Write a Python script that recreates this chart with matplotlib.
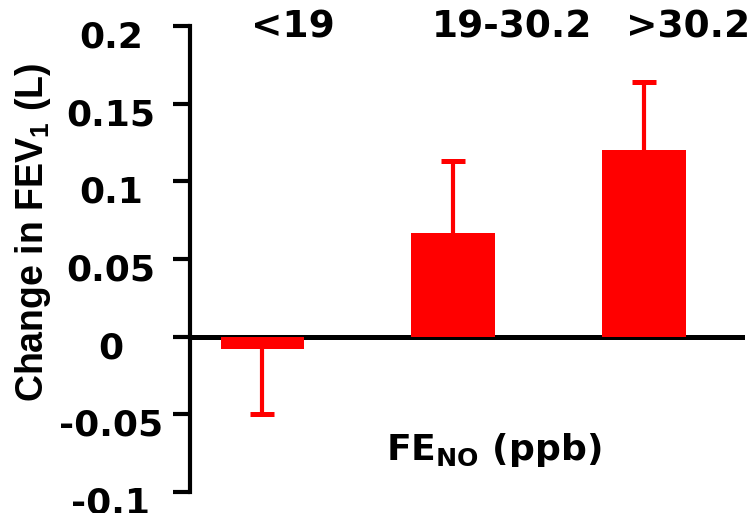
#!/usr/bin/env python3
from matplotlib import pyplot as plt
from matplotlib import transforms

plt.rcParams['font.family'] = ['DejaVu Sans']
plt.rcParams['font.weight'] = 'bold'
plt.rcParams['mathtext.default'] = 'bf'
plt.rcParams['mathtext.bf'] = 'Liberation Sans:bold'

# data
groups = ['<19', '19-30.2', '>30.2']
change = [-0.008, 0.067, 0.120]
err_ends = [-0.050, 0.113, 0.164]
yticks = [-0.1, -0.05, 0, 0.05, 0.1, 0.15, 0.2]
ytick_labels = ['-0.1', '-0.05', '0', '0.05', '0.1', '0.15', '0.2']

red = '#ff0000'

fig = plt.figure(figsize=(7.52, 5.13), dpi=100)
ax = fig.add_axes([190/752, 21/513, 555/752, 466/513])

x = list(range(len(groups)))
ax.axhline(0, color='black', lw=3.6, zorder=1)
ax.bar(x, change, width=0.44, color=red, zorder=2)
# one-sided error bars, away from zero
ax.vlines(x, change, err_ends, color=red, lw=3, zorder=3)
ax.plot(x, err_ends, ls='none', marker='_', markersize=17,
        markeredgewidth=3.6, color=red, zorder=3)

ax.set_xlim(-0.38, 2.53)
ax.set_ylim(-0.1, 0.2)

for side in ['top', 'right', 'bottom']:
    ax.spines[side].set_visible(False)
ax.spines['left'].set_linewidth(3)
ax.set_xticks([])
ax.set_yticks(yticks, ytick_labels)
ax.tick_params(axis='y', length=12, width=3, pad=45, labelsize=26)
shift = transforms.ScaledTranslation(0, -8/100, fig.dpi_scale_trans)
for lbl in ax.get_yticklabels():
    lbl.set_ha('center')
    lbl.set_fontweight('bold')
    lbl.set_transform(lbl.get_transform() + shift)

# group labels along the top
label_offsets = [0.16, 0.31, 0.23]
for i, g in enumerate(groups):
    ax.text(x[i] + label_offsets[i], 0.199, g, ha='center', va='center',
            fontsize=27, fontweight='bold', clip_on=False)

ax.text(1.21, -0.073, r'FE$_{NO}$ (ppb)', ha='center', va='center',
        fontsize=26, fontweight='bold', math_fontfamily='dejavusans')

fig.text(33/752, 1 - 232/513, r'Change in FEV$_1$ (L)', rotation=90,
         ha='center', va='center', fontsize=27, fontweight='bold',
         family='Liberation Sans', math_fontfamily='custom')

fig.savefig('out.png', dpi=100)
